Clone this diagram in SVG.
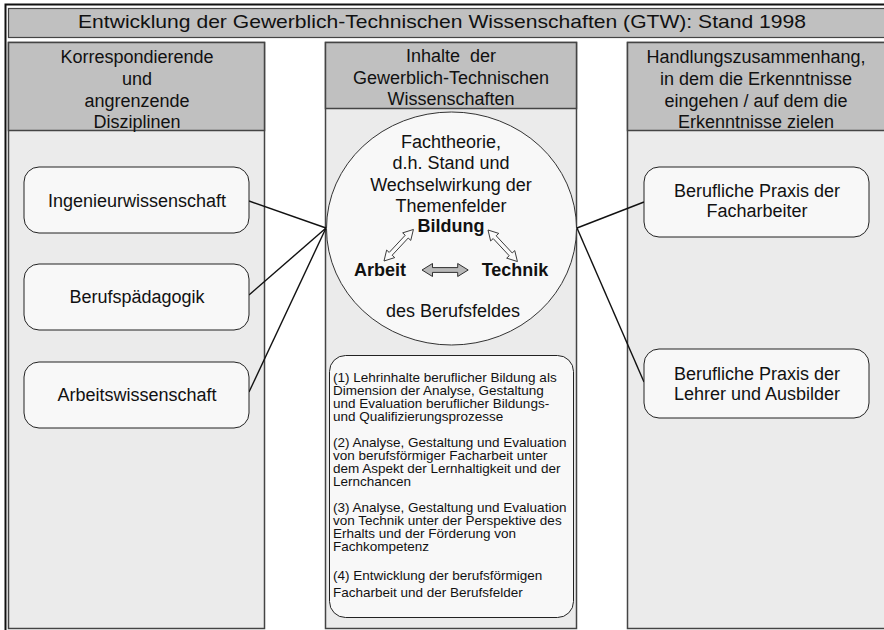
<svg xmlns="http://www.w3.org/2000/svg" width="884" height="630" viewBox="0 0 884 630">
  <style>
    text { font-family: "Liberation Sans", Arial, sans-serif; fill: #111; }
    .hdr { font-size: 18px; text-anchor: middle; }
    .lbl { font-size: 18px; text-anchor: middle; }
    .bold { font-weight: bold; }
    .small { font-size: 13.5px; }
    .colbody { fill: #ebebeb; stroke: #444; stroke-width: 1.5; }
    .colhead { fill: #c0c0c0; stroke: #444; stroke-width: 1.5; }
    .node { fill: #f8f8f8; stroke: #222; stroke-width: 1; }
    .conn { stroke: #111; stroke-width: 1.4; fill: none; }
    .dbl { fill: #fafafa; stroke: #222; stroke-width: 0.9; }
    .dblgrey { fill: #b8b8b8; stroke: #222; stroke-width: 0.9; }
  </style>
  <defs>
    <!-- hollow double-headed block arrow, 44 units long along x -->
    <path id="dblArrow" d="M0 0 L10 -6.5 L10 -2.4 L34 -2.4 L34 -6.5 L44 0 L34 6.5 L34 2.4 L10 2.4 L10 6.5 Z"/>
  </defs>

  <rect width="884" height="630" fill="#ffffff"/>

  <!-- outer frame -->
  <path d="M5.5 630 V4.5 H884" fill="none" stroke="#111" stroke-width="2"/>

  <!-- title bar -->
  <g id="title">
    <rect x="8.5" y="8.5" width="880" height="29" fill="#c0c0c0" stroke="#444" stroke-width="1.2"/>
    <text x="78" y="28" font-size="19" textLength="728" lengthAdjust="spacingAndGlyphs">Entwicklung der Gewerblich-Technischen Wissenschaften (GTW): Stand 1998</text>
  </g>

  <!-- left column -->
  <g id="col-left">
    <rect class="colbody" x="8.5" y="42.5" width="256" height="586"/>
    <rect class="colhead" x="8.5" y="42.5" width="256" height="88"/>
    <text class="hdr" x="137" y="63">Korrespondierende</text>
    <text class="hdr" x="137" y="85">und</text>
    <text class="hdr" x="137" y="107">angrenzende</text>
    <text class="hdr" x="137" y="128">Disziplinen</text>
  </g>

  <!-- middle column -->
  <g id="col-middle">
    <rect class="colbody" x="325.5" y="42.5" width="251" height="586"/>
    <rect class="colhead" x="325.5" y="42.5" width="251" height="66"/>
    <text class="hdr" x="451" y="62">Inhalte&#160; der</text>
    <text class="hdr" x="451" y="84">Gewerblich-Technischen</text>
    <text class="hdr" x="451" y="105">Wissenschaften</text>
  </g>

  <!-- right column -->
  <g id="col-right">
    <rect class="colbody" x="627.5" y="42.5" width="260" height="586"/>
    <rect class="colhead" x="627.5" y="42.5" width="260" height="88"/>
    <text class="hdr" x="756" y="63">Handlungszusammenhang,</text>
    <text class="hdr" x="756" y="85">in dem die Erkenntnisse</text>
    <text class="hdr" x="756" y="107">eingehen / auf dem die</text>
    <text class="hdr" x="756" y="128">Erkenntnisse zielen</text>
  </g>

  <!-- connectors -->
  <g id="connectors">
    <line class="conn" x1="326" y1="228" x2="249" y2="201"/>
    <line class="conn" x1="326" y1="228" x2="249" y2="295"/>
    <line class="conn" x1="326" y1="228" x2="249" y2="392"/>
    <line class="conn" x1="577" y1="228" x2="644" y2="202"/>
    <line class="conn" x1="577" y1="228" x2="644" y2="382"/>
  </g>

  <g id="ingenieur">
    <rect class="node" x="24" y="167" width="225" height="66" rx="15"/>
    <text class="lbl" x="137" y="206.5">Ingenieurwissenschaft</text>
  </g>
  <g id="berufspaedagogik">
    <rect class="node" x="24" y="264" width="225" height="66" rx="15"/>
    <text class="lbl" x="137" y="303">Berufspädagogik</text>
  </g>
  <g id="arbeitswissenschaft">
    <rect class="node" x="24" y="362" width="225" height="66" rx="15"/>
    <text class="lbl" x="137" y="401">Arbeitswissenschaft</text>
  </g>

  <g id="praxis-facharbeiter">
    <rect class="node" x="644" y="167" width="225" height="70" rx="15"/>
    <text class="lbl" x="757" y="197">Berufliche Praxis der</text>
    <text class="lbl" x="757" y="217">Facharbeiter</text>
  </g>
  <g id="praxis-lehrer">
    <rect class="node" x="644" y="349" width="225" height="69" rx="15"/>
    <text class="lbl" x="757" y="380">Berufliche Praxis der</text>
    <text class="lbl" x="757" y="400">Lehrer und Ausbilder</text>
  </g>

  <!-- central ellipse: Fachtheorie -->
  <g id="fachtheorie">
    <ellipse cx="451.5" cy="228.5" rx="125" ry="116.5" fill="#f8f8f8" stroke="#333" stroke-width="1"/>
    <text class="lbl" x="451" y="148">Fachtheorie,</text>
    <text class="lbl" x="451" y="169">d.h. Stand und</text>
    <text class="lbl" x="451" y="191">Wechselwirkung der</text>
    <text class="lbl" x="451" y="212">Themenfelder</text>
    <text class="lbl bold" x="451" y="232">Bildung</text>
    <text class="lbl bold" x="380" y="276">Arbeit</text>
    <text class="lbl bold" x="515" y="276">Technik</text>
    <text class="lbl" x="453" y="317">des Berufsfeldes</text>
    <use href="#dblArrow" class="dbl" transform="translate(384 261) rotate(-47) scale(0.98 0.85)"/>
    <use href="#dblArrow" class="dbl" transform="translate(488 230) rotate(47) scale(0.98 0.85)"/>
    <use href="#dblArrow" class="dblgrey" transform="translate(422 270) scale(1.05 1)"/>
  </g>

  <!-- research fields -->
  <g id="forschungsfelder">
    <rect class="node" x="329.5" y="355.5" width="244" height="262" rx="16"/>
    <text class="small" x="333">
      <tspan x="333" y="381.5">(1) Lehrinhalte beruflicher Bildung als</tspan>
      <tspan x="333" y="394.5">Dimension der Analyse, Gestaltung</tspan>
      <tspan x="333" y="407.5">und Evaluation beruflicher Bildungs-</tspan>
      <tspan x="333" y="420.5">und Qualifizierungsprozesse</tspan>
      <tspan x="333" y="446.5">(2) Analyse, Gestaltung und Evaluation</tspan>
      <tspan x="333" y="459.5">von berufsförmiger Facharbeit unter</tspan>
      <tspan x="333" y="472.5">dem Aspekt der Lernhaltigkeit und der</tspan>
      <tspan x="333" y="485.5">Lernchancen</tspan>
      <tspan x="333" y="511.5">(3) Analyse, Gestaltung und Evaluation</tspan>
      <tspan x="333" y="524.5">von Technik unter der Perspektive des</tspan>
      <tspan x="333" y="537.5">Erhalts und der Förderung von</tspan>
      <tspan x="333" y="550.5">Fachkompetenz</tspan>
      <tspan x="333" y="579.5">(4) Entwicklung der berufsförmigen</tspan>
      <tspan x="333" y="596.5">Facharbeit und der Berufsfelder</tspan>
    </text>
  </g>
</svg>
